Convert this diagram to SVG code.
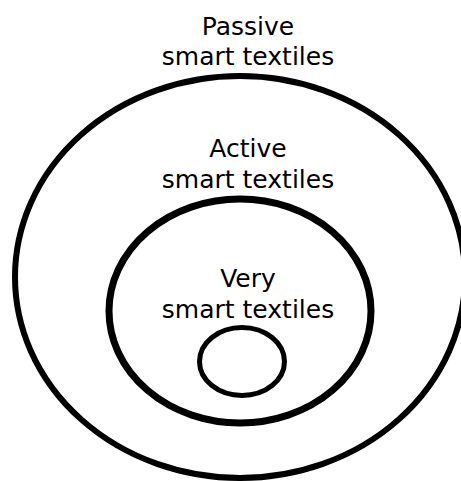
<svg xmlns="http://www.w3.org/2000/svg" width="461" height="481" viewBox="0 0 461 481">
<style>
.ring{fill:none;stroke:#000}
text{font-family:"DejaVu Sans",sans-serif;font-size:25px;fill:#000;text-anchor:middle}
</style>
<rect width="461" height="481" fill="#fff"/>
<g id="passive">
<ellipse class="ring" cx="240" cy="277" rx="225" ry="201" stroke-width="6"/>
<text x="248" y="35">Passive</text>
<text x="248" y="65">smart textiles</text>
</g>
<g id="active">
<ellipse class="ring" cx="240" cy="311" rx="131" ry="112" stroke-width="7"/>
<text x="248" y="157">Active</text>
<text x="248" y="188">smart textiles</text>
</g>
<g id="very">
<ellipse class="ring" cx="242" cy="361.5" rx="42.5" ry="34" stroke-width="5"/>
<text x="248" y="287">Very</text>
<text x="248" y="318">smart textiles</text>
</g>
<g id="connectors"/>
</svg>
